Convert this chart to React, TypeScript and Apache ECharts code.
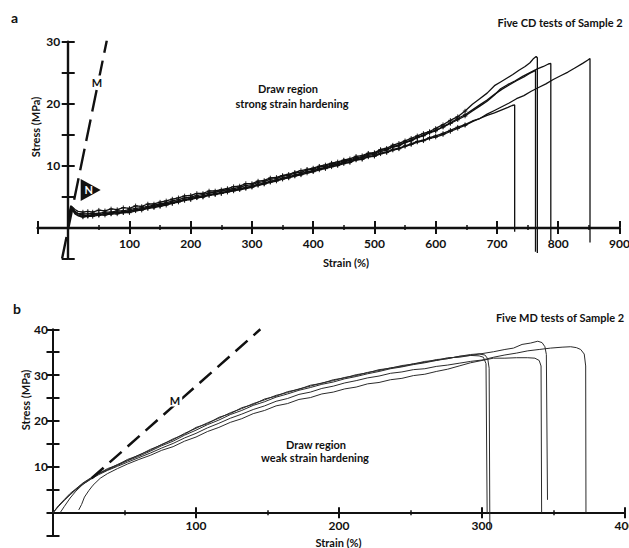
import React, { useEffect, useRef } from 'react';
import * as echarts from 'echarts';

// ---------- Panel a : five CD tests (strain %, stress MPa) ----------
const cdTestA = [[0,0],[2,2.4],[4,3.5],[7,3.3],[11,2.9],[16,2.6],[24,2.5],[32,2.6],[40,2.5],[50,2.8],[60,2.7],[70,3.0],[80,2.9],[90,3.2],[100,3.1],[110,3.5],[120,3.4],[130,3.8],[140,3.8],[150,4.1],[160,4.3],[170,4.6],[180,4.8],[190,5.1],[200,5.2],[210,5.5],[220,5.5],[230,5.9],[240,5.9],[250,6.1],[260,6.3],[270,6.6],[280,6.7],[290,7.1],[300,7.1],[310,7.5],[320,7.6],[330,8.0],[340,8.1],[350,8.4],[360,8.6],[370,8.9],[380,9.2],[390,9.4],[400,9.6],[410,9.9],[420,10.1],[430,10.4],[440,10.6],[450,10.9],[460,11.1],[470,11.5],[480,11.6],[490,12.0],[500,12.1],[510,12.6],[520,12.8],[530,13.3],[540,13.6],[550,14.0],[560,14.4],[570,14.8],[580,15.2],[590,15.5],[600,16.0],[612,16.6],[624,17.3],[636,17.9],[648,18.8],[660,19.9],[672,20.8],[684,21.7],[696,22.9],[706,23.5],[716,24.1],[726,24.7],[736,25.4],[746,26.0],[754,26.6],[760,27.3],[764,27.6],[766,27.4],[766,-4.1]];
const cdTestB = [[0,0],[2,2.1],[4,3.3],[7,3.1],[11,2.6],[16,2.3],[24,2.2],[32,2.2],[40,2.3],[50,2.3],[60,2.5],[70,2.5],[80,2.7],[90,2.7],[100,2.9],[110,3.1],[120,3.2],[130,3.4],[140,3.6],[150,3.8],[160,4.0],[170,4.3],[180,4.5],[190,4.8],[200,4.9],[210,5.2],[220,5.3],[230,5.6],[240,5.7],[250,5.9],[260,6.1],[270,6.3],[280,6.5],[290,6.8],[300,6.9],[310,7.3],[320,7.4],[330,7.8],[340,7.9],[350,8.3],[360,8.4],[370,8.8],[380,8.9],[390,9.3],[400,9.4],[410,9.8],[420,9.9],[430,10.3],[440,10.4],[450,10.8],[460,10.9],[470,11.3],[480,11.4],[490,11.9],[500,12.0],[510,12.5],[520,12.6],[530,13.1],[540,13.3],[550,13.8],[560,14.1],[570,14.6],[580,14.9],[590,15.4],[600,15.7],[612,16.2],[624,16.8],[636,17.4],[648,18.0],[660,18.8],[672,19.6],[684,20.4],[696,21.4],[706,22.4],[718,23.1],[730,23.7],[742,24.4],[754,25.0],[766,25.6],[776,26.0],[784,26.4],[788,26.5],[788,-2.0]];
const cdTestC = [[0,0],[2,1.7],[4,2.9],[7,2.8],[11,2.2],[16,1.9],[24,1.7],[32,1.8],[40,1.8],[50,2.0],[60,2.0],[70,2.2],[80,2.2],[90,2.4],[100,2.4],[110,2.7],[120,2.8],[130,3.1],[140,3.2],[150,3.4],[160,3.6],[170,3.9],[180,4.1],[190,4.4],[200,4.5],[210,4.8],[220,4.9],[230,5.2],[240,5.3],[250,5.5],[260,5.7],[270,5.9],[280,6.1],[290,6.3],[300,6.5],[310,6.8],[320,7.0],[330,7.3],[340,7.5],[350,7.8],[360,8.0],[370,8.3],[380,8.5],[390,8.8],[400,9.0],[410,9.3],[420,9.5],[430,9.8],[440,10.0],[450,10.3],[460,10.5],[470,10.9],[480,11.0],[490,11.4],[500,11.5],[510,11.9],[520,12.1],[530,12.5],[540,12.7],[550,13.1],[560,13.4],[570,13.8],[580,14.0],[590,14.4],[600,14.6],[612,15.0],[624,15.5],[636,16.0],[648,16.5],[660,17.1],[672,17.6],[684,18.3],[696,18.9],[708,19.5],[720,20.1],[732,20.8],[744,21.3],[756,22.0],[768,22.6],[780,23.2],[792,23.9],[804,24.5],[816,25.1],[828,25.8],[840,26.5],[848,27.0],[852,27.3],[852,-2.4]];
const cdTestD = [[0,0],[2,2.0],[4,3.0],[7,2.9],[11,2.4],[16,2.0],[24,1.8],[32,1.9],[40,2.0],[50,2.1],[60,2.2],[70,2.4],[80,2.4],[90,2.6],[100,2.6],[110,2.9],[120,3.0],[130,3.3],[140,3.4],[150,3.6],[160,3.8],[170,4.1],[180,4.2],[190,4.6],[200,4.6],[210,5.0],[220,5.0],[230,5.4],[240,5.4],[250,5.7],[260,5.8],[270,6.1],[280,6.2],[290,6.5],[300,6.6],[310,7.0],[320,7.1],[330,7.5],[340,7.6],[350,8.0],[360,8.1],[370,8.5],[380,8.6],[390,9.0],[400,9.1],[410,9.5],[420,9.6],[430,10.0],[440,10.1],[450,10.5],[460,10.6],[470,11.0],[480,11.1],[490,11.5],[500,11.6],[510,12.0],[520,12.2],[530,12.6],[540,12.8],[550,13.2],[560,13.5],[570,13.9],[580,14.1],[590,14.5],[600,14.8],[612,15.2],[624,15.7],[636,16.2],[648,16.6],[660,17.2],[672,17.6],[684,18.1],[696,18.5],[708,19.0],[718,19.4],[725,19.7],[729,19.8],[729,-0.7]];
const cdTestE = [[0,0],[2,1.9],[4,3.1],[7,3.0],[11,2.5],[16,2.2],[24,2.0],[32,1.9],[40,2.1],[50,2.0],[60,2.3],[70,2.2],[80,2.5],[90,2.4],[100,2.7],[110,2.8],[120,3.0],[130,3.1],[140,3.4],[150,3.5],[160,3.9],[170,3.9],[180,4.3],[190,4.4],[200,4.8],[210,4.8],[220,5.1],[230,5.2],[240,5.5],[250,5.5],[260,5.9],[270,6.0],[280,6.3],[290,6.4],[300,6.7],[310,6.9],[320,7.2],[330,7.4],[340,7.7],[350,7.9],[360,8.2],[370,8.4],[380,8.7],[390,9.0],[400,9.2],[410,9.5],[420,9.7],[430,10.1],[440,10.2],[450,10.6],[460,10.8],[470,11.1],[480,11.3],[490,11.7],[500,11.8],[510,12.3],[520,12.5],[530,13.0],[540,13.2],[550,13.7],[560,14.0],[570,14.5],[580,14.8],[590,15.3],[600,15.6],[612,16.3],[624,16.9],[636,17.6],[648,18.2],[660,19.0],[672,19.8],[684,20.6],[696,21.5],[708,22.3],[720,23.0],[732,23.7],[744,24.3],[754,24.9],[760,25.2],[763,25.4],[763,-3.9]];
const cdModulusLine = [[-10,-5],[63,30.2]];
const cdNeckMarker = [36.7, 6.06];

// ---------- Panel b : five MD tests ----------
const mdTest1 = [[0,0],[4,1.4],[8,2.8],[12,4.0],[16,5.1],[21,6.4],[26,7.4],[32,8.6],[38,9.4],[45,10.5],[52,11.4],[60,12.6],[68,13.6],[76,14.9],[84,15.9],[92,17.3],[100,18.4],[108,19.6],[116,20.6],[124,21.8],[132,22.7],[140,23.8],[148,24.6],[156,25.6],[164,26.2],[172,27.0],[180,27.6],[188,28.3],[196,28.8],[204,29.5],[212,29.9],[220,30.6],[228,31.0],[236,31.6],[244,31.9],[252,32.5],[260,32.8],[268,33.4],[276,33.6],[284,34.1],[292,34.3],[298,34.6],[302,34.4],[304,33.6],[305,31.5],[305.5,-3.8]];
const mdTest2 = [[0,0],[4,1.6],[8,2.9],[12,4.2],[16,5.2],[21,6.5],[26,7.5],[32,8.5],[38,9.6],[45,10.4],[52,11.6],[60,12.5],[68,13.8],[76,14.8],[84,16.1],[92,17.1],[100,18.6],[108,19.4],[116,20.8],[124,21.6],[132,22.9],[140,23.6],[148,24.8],[156,25.4],[164,26.4],[172,26.9],[180,27.8],[188,28.2],[196,29.0],[204,29.4],[212,30.1],[220,30.5],[228,31.2],[236,31.5],[244,32.1],[252,32.4],[260,33.0],[268,33.2],[276,33.8],[284,33.9],[292,34.3],[298,34.2],[301,33.9],[302.8,32.5],[303.6,0]];
const mdTest3 = [[5,0],[8,1.4],[12,3.2],[16,4.7],[21,6.2],[26,7.3],[32,8.5],[38,9.3],[45,10.3],[52,11.3],[60,12.3],[68,13.4],[76,14.6],[84,15.6],[92,16.9],[100,18.0],[108,19.2],[116,20.2],[124,21.4],[132,22.3],[140,23.4],[148,24.2],[156,25.2],[164,25.9],[172,26.7],[180,27.3],[188,28.0],[196,28.5],[204,29.2],[212,29.7],[220,30.3],[228,30.8],[236,31.4],[244,31.8],[252,32.3],[260,32.7],[268,33.2],[276,33.6],[284,34.1],[292,34.5],[300,34.7],[308,35.1],[316,35.6],[322,35.9],[328,36.7],[334,37.0],[339,37.4],[342,37.1],[344,36.2],[345,34.5],[345.8,2.8]];
const mdTest4 = [[0,0],[4,1.5],[8,2.7],[12,3.9],[16,5.0],[21,6.2],[26,7.2],[32,8.3],[38,9.2],[45,10.1],[52,11.0],[60,12.0],[68,13.0],[76,14.1],[84,15.1],[92,16.3],[100,17.3],[108,18.5],[116,19.5],[124,20.6],[132,21.5],[140,22.5],[148,23.3],[156,24.3],[164,24.9],[172,25.8],[180,26.3],[188,27.1],[196,27.6],[204,28.3],[212,28.8],[220,29.4],[228,29.8],[236,30.4],[244,30.7],[252,31.2],[260,31.4],[268,31.9],[276,32.2],[284,32.6],[292,33.0],[300,33.3],[308,33.9],[316,34.4],[324,34.8],[332,35.3],[340,35.6],[348,35.9],[356,36.1],[362,36.2],[366,36.0],[369,35.6],[371.5,34.6],[372.5,32],[372.7,0]];
const mdTest5 = [[18,0.6],[20,1.8],[22,3.4],[25,4.8],[28,6.0],[33,7.5],[38,8.5],[45,9.6],[52,10.6],[60,11.6],[68,12.5],[76,13.6],[84,14.4],[92,15.6],[100,16.5],[108,17.7],[116,18.6],[124,19.7],[132,20.5],[140,21.6],[148,22.3],[156,23.3],[164,23.8],[172,24.7],[180,25.1],[188,25.9],[196,26.3],[204,27.0],[212,27.4],[220,28.1],[228,28.4],[236,29.0],[244,29.3],[252,29.9],[260,30.2],[268,30.8],[276,31.3],[284,32.0],[292,32.7],[300,33.2],[308,33.7],[316,33.7],[324,33.8],[332,33.8],[337,33.7],[340,33.2],[341.3,32],[341.7,0]];
const mdModulusLine = [[27,7.5],[145,40]];

// ---------- tick labels ----------
const cdStrainTicks = [100, 200, 300, 400, 500, 600, 700, 800, 900];
const cdStressTicks = [10, 20, 30];
const mdStrainTicks = [100, 200, 300, 400];
const mdStressTicks = [10, 20, 30, 40];

const FONT = 'Lato, "Open Sans", "DejaVu Sans", sans-serif';
const INK = '#111';
const CROSS = 'path://M0,5L10,5M5,0L5,10';

const range = (a: number, b: number, s: number) => {
  const out: number[] = [];
  for (let v = a; v <= b + 1e-9; v += s) out.push(v);
  return out;
};

function makeXAxes(gridIndex: number, min: number, max: number, major: number[], minor: number[], labels: number[], offset: number, margin: number, lineW: number, majorLen: number) {
  const base = { gridIndex, type: 'value', min, max, interval: 50, position: 'bottom', offset, splitLine: { show: false } };
  const tickStyle = { color: INK, width: 2 };
  return [
    { ...base, axisLine: { show: true, onZero: false, lineStyle: { color: INK, width: lineW } },
      axisTick: { show: true, inside: true, length: majorLen, lineStyle: tickStyle, customValues: major },
      axisLabel: { show: true, customValues: labels, margin, fontFamily: FONT, fontWeight: 'bold', fontSize: 12, color: INK } },
    { ...base, axisLine: { show: false, onZero: false },
      axisTick: { show: true, inside: false, length: majorLen, lineStyle: tickStyle, customValues: major },
      axisLabel: { show: false } },
    { ...base, axisLine: { show: false, onZero: false },
      axisTick: { show: true, inside: false, length: 2.5, lineStyle: { color: INK, width: 1.5 }, customValues: minor },
      axisLabel: { show: false } },
    { ...base, axisLine: { show: false, onZero: false },
      axisTick: { show: true, inside: true, length: 2.5, lineStyle: { color: INK, width: 1.5 }, customValues: minor },
      axisLabel: { show: false } },
  ];
}

function makeYAxes(gridIndex: number, min: number, max: number, ticks: number[], labels: number[], offset: number, margin: number, lineW: number) {
  const base = { gridIndex, type: 'value', min, max, interval: 5, position: 'left', offset, splitLine: { show: false } };
  const tickStyle = { color: INK, width: 2 };
  return [
    { ...base, axisLine: { show: true, onZero: false, lineStyle: { color: INK, width: lineW } },
      axisTick: { show: true, inside: true, length: 6.5, lineStyle: tickStyle, customValues: ticks },
      axisLabel: { show: true, customValues: labels, margin, fontFamily: FONT, fontWeight: 'bold', fontSize: 12, color: INK } },
    { ...base, axisLine: { show: false, onZero: false },
      axisTick: { show: true, inside: false, length: 6.5, lineStyle: tickStyle, customValues: ticks },
      axisLabel: { show: false } },
  ];
}

// grid geometry
const gA = { left: 37.6, top: 41.7, width: 581.8, height: 216.8 };
const gB = { left: 53, top: 329.3, width: 572, height: 206.3 };
const aXmin = -50, aXmax = 900, aYmin = -5, aYmax = 30;
const bXmin = 0, bXmax = 400, bYmin = -5, bYmax = 40;
const aXoff = -(gA.height * (0 - aYmin) / (aYmax - aYmin));
const aYoff = -(gA.width * (0 - aXmin) / (aXmax - aXmin));
const bXoff = -(gB.height * (0 - bYmin) / (bYmax - bYmin));
const bYoff = 0;

// noisy CD curves: small cross marks along the early (noisy) part of each test
const cdCurve = (data: number[][]) => ({
  type: 'line',
  data: data.map((p, i) => (p[0] >= 20 && p[0] <= 650 && i < data.length - 1 ? { value: p } : { value: p, symbol: 'none' })),
  xAxisIndex: 0, yAxisIndex: 0, showSymbol: true, symbol: CROSS, symbolSize: 4.5,
  itemStyle: { color: 'transparent', borderColor: INK, borderWidth: 0.9 },
  lineStyle: { color: INK, width: 1.3 }, silent: true, z: 3,
});

const mdCurve = (data: number[][]) => ({
  type: 'line', data, xAxisIndex: 4, yAxisIndex: 2, showSymbol: false, symbol: 'none',
  lineStyle: { color: '#2b2b2b', width: 1 }, silent: true, z: 3,
});

const txt = (text: string, x: number, y: number, size = 11, extra: any = {}) => ({
  type: 'text', x, y, z: 10,
  style: { text, fontFamily: FONT, fontWeight: 'bold', fontSize: size, fill: INK, align: 'center', verticalAlign: 'middle', ...extra.style },
  ...(extra.rotation ? { rotation: extra.rotation } : {}),
});

export default function App() {
  const ref = useRef<HTMLDivElement>(null);
  useEffect(() => {
    if (!ref.current) return;
    const chart = echarts.init(ref.current, null, { renderer: 'svg' });
    const option: any = {
      animation: false,
      backgroundColor: '#fff',
      grid: [
        { ...gA, containLabel: false, outerBoundsMode: 'none' },
        { ...gB, containLabel: false, outerBoundsMode: 'none' },
      ],
      xAxis: [
        ...makeXAxes(0, aXmin, aXmax, [-50, ...range(0, 900, 100)], range(50, 850, 100), cdStrainTicks, aXoff, 9.5, 2.4, 6.5),
        ...makeXAxes(1, bXmin, bXmax, range(100, 400, 100), range(50, 350, 100), mdStrainTicks, bXoff, 6.5, 2, 5.5),
      ],
      yAxis: [
        ...makeYAxes(0, aYmin, aYmax, range(-5, 30, 5), cdStressTicks, aYoff, 8, 2.4),
        ...makeYAxes(1, bYmin, bYmax, range(-5, 40, 5), mdStressTicks, bYoff, 5, 2),
      ],
      series: [
        cdCurve(cdTestA),
        cdCurve(cdTestB),
        cdCurve(cdTestC),
        cdCurve(cdTestD),
        cdCurve(cdTestE),
        {
          type: 'line', data: cdModulusLine, xAxisIndex: 0, yAxisIndex: 0, showSymbol: false, symbol: 'none',
          lineStyle: { color: INK, width: 2.4, type: [22, 8] }, silent: true, z: 4,
          markPoint: {
            silent: true,
            data: [{
              coord: cdNeckMarker, symbol: 'triangle', symbolSize: [22, 20], symbolRotate: -90,
              itemStyle: { color: INK },
              label: { show: true, formatter: 'N', color: '#fff', fontFamily: FONT, fontWeight: 'bold', fontSize: 11, offset: [-2, 0] },
            }],
          },
        },
        mdCurve(mdTest1),
        mdCurve(mdTest2),
        mdCurve(mdTest3),
        mdCurve(mdTest4),
        mdCurve(mdTest5),
        {
          type: 'line', data: mdModulusLine, xAxisIndex: 4, yAxisIndex: 2, showSymbol: false, symbol: 'none',
          lineStyle: { color: INK, width: 2.5, type: [16, 8] }, silent: true, z: 4,
        },
      ],
      graphic: [
        txt('a', 14.5, 17, 14),
        txt('Five CD tests of Sample 2', 560, 22),
        txt('Draw region', 288, 88),
        txt('strong strain hardening', 292, 103),
        txt('Stress (MPa)', 35, 127, 11, { rotation: Math.PI / 2 }),
        txt('Strain (%)', 346, 262),
        txt('M', 97, 82, 11, { style: { backgroundColor: '#fff', padding: [1, 2] } }),
        txt('b', 17, 308, 14),
        txt('Five MD tests of Sample 2', 560, 317),
        txt('Draw region', 316, 444),
        txt('weak strain hardening', 315, 457),
        txt('Stress (MPa)', 25, 400, 11, { rotation: Math.PI / 2 }),
        txt('Strain (%)', 338.5, 542.5),
        txt('M', 175, 400, 11, { style: { backgroundColor: '#fff', padding: [1, 2] } }),
      ],
    };
    chart.setOption(option);
    return () => chart.dispose();
  }, []);
  return <div ref={ref} style={{ position: 'fixed', left: 0, top: 0, width: 629, height: 548, background: '#fff' }} />;
}
